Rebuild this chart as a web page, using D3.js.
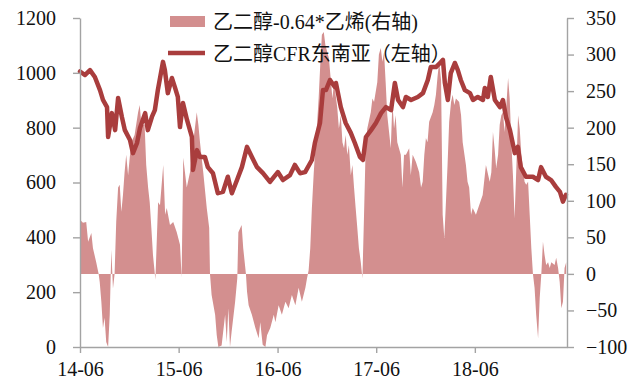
<!DOCTYPE html>
<html>
<head>
<meta charset="utf-8">
<script src="https://cdnjs.cloudflare.com/ajax/libs/d3/7.8.5/d3.min.js"></script>
<style>
  html, body { margin: 0; padding: 0; background: #fff; }
  svg { display: block; }
  text { font-family: "Liberation Serif", "Times New Roman", "Noto Sans CJK SC", serif; fill: #111; }
</style>
</head>
<body>
<svg id="chart" width="638" height="385"></svg>
<script>
// 乙二醇CFR东南亚（左轴），美元/吨
var cfrDates = [
  "2014-06-01","2014-06-19","2014-07-08","2014-07-26","2014-08-14","2014-08-25","2014-09-09","2014-09-13",
  "2014-09-27","2014-10-09","2014-10-20","2014-11-03","2014-11-14","2014-12-03","2014-12-14","2014-12-29",
  "2015-01-09","2015-01-28","2015-02-07","2015-02-22","2015-03-05","2015-03-16","2015-04-04","2015-04-11",
  "2015-04-22","2015-05-07","2015-05-18","2015-05-29","2015-06-06","2015-06-17","2015-07-02","2015-07-20",
  "2015-07-24","2015-08-08","2015-08-19","2015-09-06","2015-09-17","2015-10-06","2015-10-24","2015-11-12",
  "2015-11-30","2015-12-15","2016-01-03","2016-01-21","2016-02-09","2016-02-27","2016-03-17","2016-04-08",
  "2016-05-04","2016-06-02","2016-06-21","2016-07-17","2016-08-04","2016-08-23","2016-09-11","2016-10-06",
  "2016-10-17","2016-11-05","2016-11-16","2016-11-27","2016-12-12","2016-12-30","2017-01-03","2017-01-21",
  "2017-02-08","2017-02-27","2017-03-14","2017-04-02","2017-04-13","2017-04-24","2017-05-13","2017-05-31",
  "2017-06-19","2017-07-07","2017-07-26","2017-08-09","2017-08-21","2017-09-08","2017-09-19","2017-10-08",
  "2017-11-02","2017-11-21","2017-12-09","2017-12-20","2018-01-08","2018-01-23","2018-02-03","2018-02-10",
  "2018-02-21","2018-03-04","2018-03-19","2018-03-30","2018-04-10","2018-04-25","2018-05-14","2018-05-25",
  "2018-06-12","2018-07-01","2018-07-08","2018-07-19","2018-07-30","2018-08-14","2018-09-02","2018-09-13",
  "2018-09-24","2018-10-09","2018-10-27","2018-11-07","2018-11-18","2018-12-07","2019-01-02","2019-01-21",
  "2019-02-01","2019-02-19","2019-03-10","2019-03-28","2019-04-12","2019-04-23","2019-05-04"
];
var cfrValues = [
  1005, 992, 1010, 985, 937, 901, 875, 766,
  853, 791, 908, 839, 791, 755, 707, 744,
  799, 853, 791, 839, 864, 937, 1040, 1010,
  926, 981, 948, 912, 802, 890, 828, 766,
  646, 718, 693, 693, 656, 634, 561, 566,
  621, 561, 609, 656, 730, 693, 656, 634,
  602, 638, 609, 627, 664, 634, 638, 682,
  744, 817, 937, 937, 974, 948, 963, 875,
  817, 781, 744, 693, 682, 766, 791, 817,
  853, 875, 864, 963, 901, 875, 912, 901,
  912, 926, 974, 1021, 1021, 1036, 1047, 963,
  901, 999, 1036, 1010, 974, 937, 926, 901,
  912, 901, 945, 912, 985, 901, 875, 901,
  839, 791, 707, 730, 656, 621, 621, 609,
  656, 621, 609, 584, 566, 530, 555
];

// 乙二醇-0.64*乙烯（右轴）
var spreadDates = [
  "2014-06-01","2014-06-12","2014-06-24","2014-07-01","2014-07-13","2014-07-19","2014-07-31","2014-08-09",
  "2014-08-13","2014-08-19","2014-08-25","2014-08-31","2014-09-06","2014-09-13","2014-09-19","2014-09-25",
  "2014-10-01","2014-10-07","2014-10-13","2014-10-20","2014-10-26","2014-11-01","2014-11-07","2014-11-13",
  "2014-11-19","2014-11-26","2014-12-02","2014-12-08","2014-12-20","2015-01-02","2015-01-08","2015-01-14",
  "2015-01-26","2015-02-01","2015-02-08","2015-02-14","2015-02-20","2015-02-26","2015-03-07","2015-03-17",
  "2015-03-24","2015-04-05","2015-04-12","2015-04-18","2015-04-30","2015-05-12","2015-05-25","2015-06-06",
  "2015-06-12","2015-06-18","2015-07-01","2015-07-13","2015-07-25","2015-08-07","2015-08-13","2015-08-19",
  "2015-08-31","2015-09-13","2015-09-22","2015-09-25","2015-10-01","2015-10-14","2015-10-20","2015-10-26",
  "2015-11-07","2015-11-20","2015-11-26","2015-12-02","2015-12-08","2015-12-14","2015-12-27","2016-01-04",
  "2016-01-08","2016-01-20","2016-01-26","2016-02-05","2016-02-09","2016-02-15","2016-02-27","2016-03-11",
  "2016-03-23","2016-03-29","2016-04-07","2016-04-17","2016-04-23","2016-05-05","2016-05-18","2016-05-24",
  "2016-06-05","2016-06-17","2016-06-30","2016-07-12","2016-07-24","2016-08-06","2016-08-18","2016-08-30",
  "2016-09-12","2016-09-18","2016-09-24","2016-09-30","2016-10-06","2016-10-13","2016-10-19","2016-10-25",
  "2016-10-31","2016-11-06","2016-11-12","2016-11-19","2016-11-25","2016-12-08","2016-12-21","2016-12-27",
  "2017-01-08","2017-01-14","2017-01-21","2017-01-27","2017-02-02","2017-02-08","2017-02-14","2017-02-20",
  "2017-02-27","2017-03-05","2017-03-11","2017-03-17","2017-03-23","2017-03-29","2017-04-05","2017-04-11",
  "2017-04-17","2017-04-23","2017-04-29","2017-05-12","2017-05-18","2017-05-24","2017-06-05","2017-06-11",
  "2017-06-18","2017-06-24","2017-06-30","2017-07-06","2017-07-12","2017-07-25","2017-07-31","2017-08-06",
  "2017-08-12","2017-08-18","2017-08-31","2017-09-06","2017-09-12","2017-09-19","2017-10-01","2017-10-07",
  "2017-10-14","2017-10-26","2017-11-07","2017-11-14","2017-11-20","2017-11-26","2017-12-02","2017-12-08",
  "2017-12-14","2017-12-27","2018-01-02","2018-01-08","2018-01-14","2018-01-20","2018-01-27","2018-02-02",
  "2018-02-08","2018-02-14","2018-02-20","2018-02-26","2018-03-05","2018-03-11","2018-03-17","2018-03-23",
  "2018-04-04","2018-04-11","2018-04-17","2018-04-29","2018-05-05","2018-05-11","2018-05-18","2018-05-24",
  "2018-06-05","2018-06-17","2018-06-30","2018-07-12","2018-07-26","2018-08-01","2018-08-07","2018-08-13",
  "2018-08-19","2018-08-26","2018-09-01","2018-09-07","2018-09-13","2018-09-19","2018-09-25","2018-10-02",
  "2018-10-08","2018-10-14","2018-10-20","2018-10-26","2018-11-01","2018-11-08","2018-11-14","2018-11-20",
  "2018-12-02","2018-12-08","2018-12-15","2018-12-21","2018-12-27","2019-01-02","2019-01-08","2019-01-14",
  "2019-01-21","2019-01-27","2019-02-02","2019-02-08","2019-02-14","2019-02-20","2019-02-27","2019-03-05",
  "2019-03-11","2019-03-23","2019-03-29","2019-04-05","2019-04-11","2019-04-17","2019-04-23","2019-04-29",
  "2019-05-05"
];
var spreadValues = [
  74, 70, 71, 44, 56, 35, 16, 0,
  -11, -38, -74, -60, -93, -100, -56, 33,
  -20, 0, 71, 118, 122, 85, 108, 139,
  163, 135, 159, 180, 190, 221, 231, 204,
  204, 149, 118, 98, 63, 26, -8, 98,
  94, 149, 81, 90, 67, 71, 57, 40,
  -5, 159, 118, 139, 180, 221, 204, 180,
  139, 90, 63, 0, -29, -56, -84, -100,
  -98, -56, -93, -47, -100, -79, -38, -6,
  57, 67, 35, 0, -24, -43, -56, -74,
  -88, -66, -97, -100, -84, -74, -56, -66,
  -43, -56, -38, -47, -29, -43, -19, -38,
  -19, -6, 5, 35, 90, 139, 172, 204,
  240, 286, 327, 331, 313, 295, 240, 262,
  227, 199, 217, 180, 172, 190, 163, 176,
  135, 149, 118, 90, 63, 35, 16, -6,
  81, 172, 199, 221, 240, 235, 262, 300,
  309, 290, 303, 262, 217, 172, 235, 199,
  217, 180, 163, 118, 163, 163, 172, 135,
  163, 153, 139, 118, 126, 163, 186, 180,
  208, 221, 231, 245, 270, 290, 265, 81,
  49, 98, 149, 208, 235, 245, 231, 240,
  235, 217, 180, 149, 126, 118, 81, 90,
  81, 94, 108, 149, 126, 139, 194, 172,
  145, 163, 204, 217, 221, 194, 227, 268,
  240, 180, 135, 76, 139, 217, 199, 163,
  126, 122, 126, 81, 35, 0, -19, -56,
  -88, -33, 0, 44, 26, 12, 16, 8,
  16, 12, 22, 8, -11, -47, -38, 8,
  16
];

var leftTicks = [0, 200, 400, 600, 800, 1000, 1200];
var rightTicks = [-100, -50, 0, 50, 100, 150, 200, 250, 300, 350];
var xTickDates = ["2014-06-01", "2015-06-01", "2016-06-01", "2017-06-01", "2018-06-01"];
var legendLabels = ["乙二醇-0.64*乙烯(右轴)", "乙二醇CFR东南亚（左轴）"];

var parseDate = d3.timeParse("%Y-%m-%d");
var cfr = cfrDates.map(function (d, i) { return { date: parseDate(d), value: cfrValues[i] }; });
var spread = spreadDates.map(function (d, i) { return { date: parseDate(d), value: spreadValues[i] }; });

var margin = { top: 18, right: 71, bottom: 38, left: 80 },
    width = 638 - margin.left - margin.right,
    height = 385 - margin.top - margin.bottom;

var svg = d3.select("#chart");
var main = svg.append('g')
    .attr("transform", "translate(" + margin.left + "," + margin.top + ")");

var x = d3.scaleTime()
    .domain([parseDate("2014-06-01"), parseDate("2019-05-08")])
    .range([0, width]);
var yLeft = d3.scaleLinear().domain([0, 1200]).range([height, 0]);
var yRight = d3.scaleLinear().domain([-100, 350]).range([height, 0]);

var areaColor = '#d38f8f',
    lineColor = '#a93d3d',
    axisColor = '#a3a3a3';

// spread area (right axis)
var area = d3.area()
    .x(function (d) { return x(d.date); })
    .y0(yRight(0))
    .y1(function (d) { return yRight(d.value); });

main.append('path')
    .datum(spread)
    .attr('class', 'spread-area')
    .attr('fill', areaColor)
    .attr('d', area);

// CFR line (left axis)
var line = d3.line()
    .x(function (d) { return x(d.date); })
    .y(function (d) { return yLeft(d.value); });

main.append('path')
    .datum(cfr)
    .attr('class', 'cfr-line')
    .attr('fill', 'none')
    .attr('stroke', lineColor)
    .attr('stroke-width', 4.5)
    .attr('stroke-linejoin', 'round')
    .attr('stroke-linecap', 'round')
    .attr('d', line);

// axes
main.append('g')
    .attr('class', 'axis axis-left')
    .call(d3.axisLeft(yLeft).tickValues(leftTicks).tickFormat(d3.format('d'))
        .tickSize(7).tickSizeOuter(0).tickPadding(17));

main.append('g')
    .attr('class', 'axis axis-right')
    .attr("transform", "translate(" + width + ",0)")
    .call(d3.axisRight(yRight).tickValues(rightTicks).tickFormat(d3.format('d'))
        .tickSize(7).tickSizeOuter(0).tickPadding(12));

main.append('g')
    .attr('class', 'axis axis-x')
    .attr("transform", "translate(0," + height + ")")
    .call(d3.axisBottom(x)
        .tickValues(xTickDates.map(parseDate))
        .tickFormat(d3.timeFormat("%y-%m"))
        .tickSize(6).tickSizeOuter(0).tickPadding(9));

svg.selectAll('.axis path, .axis line')
    .attr('stroke', axisColor)
    .attr('stroke-width', 1.4);
svg.selectAll('.axis text')
    .attr('fill', '#111')
    .style('font-size', '20px')
    .style('font-family', '"Liberation Serif", "Times New Roman", serif');

// legend
var legend = svg.append('g').attr('class', 'legend');
legend.append('rect')
    .attr('x', 170).attr('y', 16)
    .attr('width', 35).attr('height', 11)
    .attr('fill', areaColor);
legend.append('text')
    .attr('x', 213).attr('y', 22)
    .attr('dy', '0.35em')
    .style('font-size', '20px')
    .text(legendLabels[0]);
legend.append('line')
    .attr('x1', 168).attr('x2', 205)
    .attr('y1', 53).attr('y2', 53)
    .attr('stroke', lineColor)
    .attr('stroke-width', 4.5);
legend.append('text')
    .attr('x', 213).attr('y', 54)
    .attr('dy', '0.35em')
    .style('font-size', '20px')
    .text(legendLabels[1]);
</script>
</body>
</html>
